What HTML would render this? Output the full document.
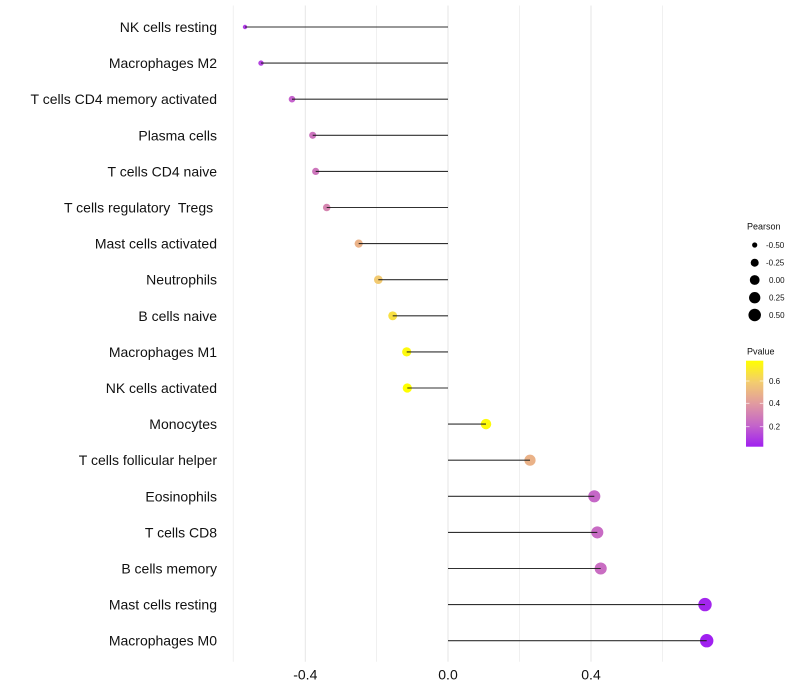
<!DOCTYPE html>
<html>
<head>
<meta charset="utf-8">
<style>
  html,body{margin:0;padding:0;background:#fff;}
  svg{display:block;}
  text{font-family:"Liberation Sans", Arial, sans-serif;}
</style>
</head>
<body>
<svg width="800" height="700" viewBox="0 0 800 700" xmlns="http://www.w3.org/2000/svg">
  <rect x="0" y="0" width="800" height="700" fill="#fff"/>
  <defs>
    <linearGradient id="pv" x1="0" y1="1" x2="0" y2="0">
      <stop offset="0" stop-color="#a020f0"/>
      <stop offset="0.25" stop-color="#c465c9"/>
      <stop offset="0.5" stop-color="#e19aa0"/>
      <stop offset="0.75" stop-color="#f3cc6f"/>
      <stop offset="1" stop-color="#ffff00"/>
    </linearGradient>
  </defs>

  <!-- grid lines -->
  <g stroke-width="1">
    <line x1="233.3" y1="5.5" x2="233.3" y2="661.7" stroke="#f0f0f0"/>
    <line x1="376.5" y1="5.5" x2="376.5" y2="661.7" stroke="#f0f0f0"/>
    <line x1="519.5" y1="5.5" x2="519.5" y2="661.7" stroke="#f0f0f0"/>
    <line x1="662.5" y1="5.5" x2="662.5" y2="661.7" stroke="#f0f0f0"/>
    <line x1="305.3" y1="5.5" x2="305.3" y2="661.7" stroke="#e6e6e6"/>
    <line x1="448" y1="5.5" x2="448" y2="661.7" stroke="#e6e6e6"/>
    <line x1="591" y1="5.5" x2="591" y2="661.7" stroke="#e6e6e6"/>
  </g>

  <!-- points -->
  <g>
    <circle cx="245" cy="27" r="2.2" fill="#b03ce6"/>
    <circle cx="261" cy="63.1" r="2.7" fill="#b444e0"/>
    <circle cx="292" cy="99.2" r="3.3" fill="#c562cd"/>
    <circle cx="312.7" cy="135.3" r="3.55" fill="#cc74be"/>
    <circle cx="315.7" cy="171.4" r="3.6" fill="#cd76bc"/>
    <circle cx="326.7" cy="207.5" r="3.75" fill="#d585b0"/>
    <circle cx="358.7" cy="243.6" r="4.1" fill="#eab288"/>
    <circle cx="378.3" cy="279.7" r="4.3" fill="#f2ca71"/>
    <circle cx="392.7" cy="315.8" r="4.45" fill="#f8e043"/>
    <circle cx="406.7" cy="351.9" r="4.6" fill="#fdf90d"/>
    <circle cx="407.3" cy="388" r="4.6" fill="#ffff00"/>
    <circle cx="486" cy="424.1" r="5.25" fill="#fefb09"/>
    <circle cx="530" cy="460.2" r="5.6" fill="#eab288"/>
    <circle cx="594.3" cy="496.3" r="6.05" fill="#c567c7"/>
    <circle cx="597.3" cy="532.4" r="6.05" fill="#c86bc4"/>
    <circle cx="600.7" cy="568.5" r="6.05" fill="#c96dc2"/>
    <circle cx="705" cy="604.6" r="6.7" fill="#a326ed"/>
    <circle cx="706.7" cy="640.7" r="6.7" fill="#a020f0"/>
  </g>

  <!-- segments -->
  <g stroke="#1a1a1a" stroke-width="1.1" stroke-opacity="0.9">
    <line x1="448" y1="27" x2="245" y2="27"/>
    <line x1="448" y1="63.1" x2="261" y2="63.1"/>
    <line x1="448" y1="99.2" x2="292" y2="99.2"/>
    <line x1="448" y1="135.3" x2="312.7" y2="135.3"/>
    <line x1="448" y1="171.4" x2="315.7" y2="171.4"/>
    <line x1="448" y1="207.5" x2="326.7" y2="207.5"/>
    <line x1="448" y1="243.6" x2="358.7" y2="243.6"/>
    <line x1="448" y1="279.7" x2="378.3" y2="279.7"/>
    <line x1="448" y1="315.8" x2="392.7" y2="315.8"/>
    <line x1="448" y1="351.9" x2="406.7" y2="351.9"/>
    <line x1="448" y1="388" x2="407.3" y2="388"/>
    <line x1="448" y1="424.1" x2="486" y2="424.1"/>
    <line x1="448" y1="460.2" x2="530" y2="460.2"/>
    <line x1="448" y1="496.3" x2="594.3" y2="496.3"/>
    <line x1="448" y1="532.4" x2="597.3" y2="532.4"/>
    <line x1="448" y1="568.5" x2="600.7" y2="568.5"/>
    <line x1="448" y1="604.6" x2="705" y2="604.6"/>
    <line x1="448" y1="640.7" x2="706.7" y2="640.7"/>
  </g>

  <!-- y labels -->
  <g font-size="14" fill="#111" text-anchor="end" style="white-space:pre">
    <text x="217" y="32">NK cells resting</text>
    <text x="217" y="68.1">Macrophages M2</text>
    <text x="217" y="104.2">T cells CD4 memory activated</text>
    <text x="217" y="140.3">Plasma cells</text>
    <text x="217" y="176.4">T cells CD4 naive</text>
    <text x="217" y="212.5" xml:space="preserve">T cells regulatory  Tregs </text>
    <text x="217" y="248.6">Mast cells activated</text>
    <text x="217" y="284.7">Neutrophils</text>
    <text x="217" y="320.8">B cells naive</text>
    <text x="217" y="356.9">Macrophages M1</text>
    <text x="217" y="393">NK cells activated</text>
    <text x="217" y="429.1">Monocytes</text>
    <text x="217" y="465.2">T cells follicular helper</text>
    <text x="217" y="501.3">Eosinophils</text>
    <text x="217" y="537.4">T cells CD8</text>
    <text x="217" y="573.5">B cells memory</text>
    <text x="217" y="609.6">Mast cells resting</text>
    <text x="217" y="645.7">Macrophages M0</text>
  </g>

  <!-- x labels -->
  <g font-size="14" fill="#111" text-anchor="middle">
    <text x="305.3" y="679.5">-0.4</text>
    <text x="448" y="679.5">0.0</text>
    <text x="591" y="679.5">0.4</text>
  </g>

  <!-- Pearson legend -->
  <text x="747" y="229.5" font-size="9" fill="#111">Pearson</text>
  <g fill="#000">
    <circle cx="754.7" cy="245" r="2.6"/>
    <circle cx="754.7" cy="262.7" r="4.0"/>
    <circle cx="754.7" cy="280" r="4.9"/>
    <circle cx="754.7" cy="297.7" r="5.65"/>
    <circle cx="754.7" cy="315" r="6.25"/>
  </g>
  <g font-size="8" fill="#111">
    <text x="766" y="247.8">-0.50</text>
    <text x="766" y="265.5">-0.25</text>
    <text x="769" y="282.8">0.00</text>
    <text x="769" y="300.5">0.25</text>
    <text x="769" y="317.8">0.50</text>
  </g>

  <!-- Pvalue legend -->
  <text x="747" y="354.5" font-size="9" fill="#111">Pvalue</text>
  <rect x="746" y="360.7" width="17.3" height="86" fill="url(#pv)"/>
  <g stroke="#fff" stroke-width="0.8" stroke-opacity="0.8">
    <line x1="746" y1="381" x2="749.5" y2="381"/>
    <line x1="759.8" y1="381" x2="763.3" y2="381"/>
    <line x1="746" y1="403.3" x2="749.5" y2="403.3"/>
    <line x1="759.8" y1="403.3" x2="763.3" y2="403.3"/>
    <line x1="746" y1="426.7" x2="749.5" y2="426.7"/>
    <line x1="759.8" y1="426.7" x2="763.3" y2="426.7"/>
  </g>
  <g font-size="8" fill="#111">
    <text x="769" y="383.8">0.6</text>
    <text x="769" y="406.1">0.4</text>
    <text x="769" y="429.5">0.2</text>
  </g>
</svg>
</body>
</html>
